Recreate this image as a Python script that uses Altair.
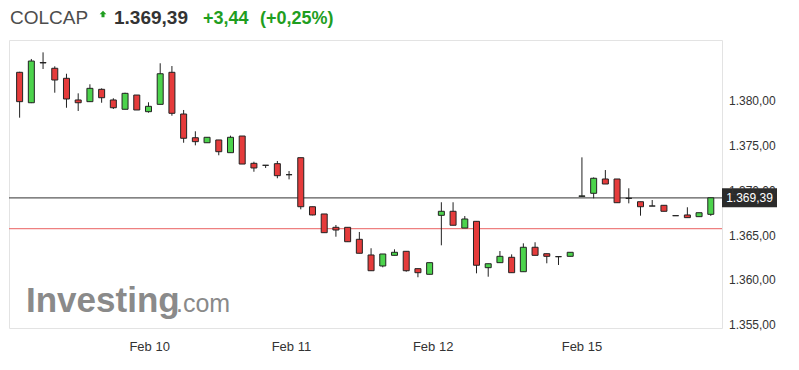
import altair as alt
import pandas as pd

# ---- data (one candle per slot) ----
open_ = [1383.41, 1380.01, 1384.50, 1383.86, 1382.74, 1380.32, 1380.13, 1381.51, 1380.32, 1379.28,
         1380.87, 1379.01, 1379.83, 1383.41, 1378.75, 1376.10, 1375.54, 1375.85, 1374.43, 1376.29,
         1373.24, 1373.02, 1373.20, 1371.97, 1373.87, 1368.39, 1367.58, 1366.09, 1366.09, 1364.75,
         1363.00, 1361.77, 1362.96, 1363.41, 1361.47, 1360.84, 1367.43, 1367.88, 1366.01, 1366.76,
         1361.58, 1362.14, 1362.74, 1361.13, 1363.86, 1363.14, 1362.81, 1362.85, 1369.55, 1369.89,
         1371.49, 1371.49, 1369.33, 1368.95, 1368.47, 1368.55, 1367.39, 1367.47, 1367.28, 1367.54]
high = [1383.47, 1384.90, 1385.64, 1384.08, 1383.25, 1381.06, 1382.07, 1381.62, 1380.51, 1381.13,
        1380.87, 1380.06, 1384.42, 1384.11, 1379.20, 1376.82, 1376.17, 1375.85, 1376.33, 1376.29,
        1373.42, 1373.02, 1373.50, 1372.38, 1373.87, 1368.39, 1367.58, 1366.35, 1366.09, 1365.57,
        1363.75, 1363.11, 1363.63, 1363.41, 1361.47, 1362.14, 1368.89, 1368.89, 1367.35, 1366.76,
        1362.02, 1363.44, 1363.07, 1364.30, 1364.42, 1363.14, 1362.81, 1363.30, 1373.91, 1371.67,
        1372.49, 1371.49, 1370.45, 1368.95, 1369.14, 1368.55, 1367.39, 1368.33, 1367.72, 1369.39]
low = [1378.34, 1379.97, 1383.78, 1381.13, 1379.45, 1379.09, 1380.13, 1380.01, 1379.31, 1379.28,
       1379.20, 1378.90, 1379.83, 1378.56, 1375.54, 1375.25, 1375.54, 1374.14, 1374.43, 1373.16,
       1372.30, 1372.72, 1371.57, 1371.45, 1368.10, 1367.43, 1365.49, 1365.04, 1364.48, 1363.19,
       1361.24, 1361.62, 1362.96, 1361.13, 1360.51, 1360.84, 1364.08, 1366.32, 1366.01, 1360.95,
       1360.57, 1362.14, 1361.02, 1361.13, 1362.96, 1362.07, 1361.88, 1362.85, 1369.50, 1369.33,
       1370.93, 1368.84, 1368.77, 1367.39, 1368.47, 1367.88, 1367.39, 1367.17, 1367.28, 1367.37]
close = [1380.13, 1384.67, 1384.46, 1382.55, 1380.43, 1380.01, 1381.62, 1380.57, 1379.45, 1381.06,
         1379.20, 1379.61, 1383.25, 1378.83, 1376.04, 1375.66, 1376.15, 1374.54, 1376.15, 1373.16,
         1372.72, 1373.02, 1371.86, 1371.97, 1368.39, 1367.47, 1365.49, 1365.79, 1364.48, 1363.19,
         1361.24, 1363.11, 1363.30, 1361.24, 1361.02, 1362.14, 1367.88, 1366.32, 1367.02, 1361.85,
         1362.02, 1362.85, 1361.02, 1363.86, 1362.96, 1362.85, 1362.81, 1363.30, 1369.60, 1371.57,
         1370.93, 1368.84, 1369.33, 1368.39, 1368.47, 1367.88, 1367.39, 1367.17, 1367.72, 1369.39]

date_labels = ["Feb 10", "Feb 11", "Feb 12", "Feb 15"]
date_ticks = [11.1, 23.2, 35.3, 48.0]
y_ticks = [1355, 1360, 1365, 1370, 1375, 1380]
y_labels = ["1.355,00", "1.360,00", "1.365,00", "1.370,00", "1.375,00", "1.380,00"]

symbol = "COLCAP"
last_price = 1369.39
last_label = "1.369,39"
prev_close = 1365.95
change_txt = "+3,44"
change_pct = "(+0,25%)"

FONT = "Liberation Sans"
GREEN = "#4cd34c"
RED = "#e53b3b"
HEAD_GREEN = "#1f9e1f"

df = pd.DataFrame({"i": list(range(len(open_))), "open": open_, "high": high,
                   "low": low, "close": close})
df["dir"] = ["up" if c > o else ("down" if c < o else "flat") for o, c in zip(open_, close)]

xscale = alt.Scale(domain=[-0.48, 59.53], nice=False, zero=False)
yscale = alt.Scale(domain=[1354.84, 1387.02], nice=False, zero=False)

# axis labels drawn as text positioned through the chart's own scales
xlab_df = pd.DataFrame({"v": date_ticks, "t": date_labels})
ylab_df = pd.DataFrame({"v": y_ticks, "t": y_labels})

xlabels = alt.Chart(xlab_df).mark_text(
    fontSize=13, font=FONT, color="#333333", align="center", baseline="middle"
).encode(x=alt.X("v:Q", scale=xscale, axis=None), y=alt.value(307), text="t:N")

ylabels = alt.Chart(ylab_df).mark_text(
    fontSize=12, font=FONT, color="#333333", align="left", baseline="middle", dy=-1.5
).encode(x=alt.value(720), y=alt.Y("v:Q", scale=yscale, axis=None), text="t:N")

base = alt.Chart(df)

wicks = base.mark_rule(color="#222222", strokeWidth=1).encode(
    x=alt.X("i:Q", scale=xscale, axis=None),
    y=alt.Y("low:Q", scale=yscale, axis=None),
    y2="high:Q",
)

bodies = base.mark_bar(size=6, stroke="#222222", strokeWidth=1).encode(
    x=alt.X("i:Q", scale=xscale, axis=None),
    y=alt.Y("open:Q", scale=yscale, axis=None),
    y2="close:Q",
    color=alt.Color("dir:N", scale=alt.Scale(domain=["up", "down", "flat"],
                                             range=[GREEN, RED, "#333333"]), legend=None),
)

prev_line = alt.Chart(pd.DataFrame({"v": [prev_close]})).mark_rule(
    strokeWidth=1.3, color="#ee8080"
).encode(y=alt.Y("v:Q", scale=yscale, axis=None))
last_line = alt.Chart(pd.DataFrame({"v": [last_price]})).mark_rule(
    strokeWidth=1.3, color="#5a5a5a"
).encode(y=alt.Y("v:Q", scale=yscale, axis=None))

last_df = pd.DataFrame({"v": [last_price], "t": [last_label]})
price_box = alt.Chart(last_df).mark_rect(color="#2b2b2b", yOffset=-9.5, y2Offset=9.5).encode(
    x=alt.value(713), x2=alt.value(768),
    y=alt.Y("v:Q", scale=yscale, axis=None), y2="v:Q",
)
price_txt = alt.Chart(last_df).mark_text(color="white", fontSize=12, font=FONT, align="center",
                                         baseline="middle", dy=0.5).encode(
    x=alt.value(740.5), y=alt.Y("v:Q", scale=yscale, axis=None), text="t:N",
)

wm1 = alt.Chart(pd.DataFrame({"t": ["Investing"]})).mark_text(
    color="#8a8a8a", fontSize=35, fontWeight="bold", font=FONT, align="left", baseline="alphabetic"
).encode(x=alt.value(17), y=alt.value(272), text="t:N")
wm2 = alt.Chart(pd.DataFrame({"t": [".com"]})).mark_text(
    color="#8a8a8a", fontSize=25, font=FONT, align="left", baseline="alphabetic"
).encode(x=alt.value(167), y=alt.value(272), text="t:N")


def head(txt, x, size, color, weight="normal"):
    return alt.Chart(pd.DataFrame({"t": [txt]})).mark_text(
        color=color, fontSize=size, fontWeight=weight, font=FONT, align="left", baseline="alphabetic"
    ).encode(x=alt.value(x), y=alt.value(-16), text="t:N")


h1 = head(symbol, 1, 19, "#4d4d4d")
h2 = head(last_label, 105, 19, "#333333", "bold")
h3 = head(change_txt, 194, 18, HEAD_GREEN, "bold")
h4 = head(change_pct, 251, 18, HEAD_GREEN, "bold")
arrow = alt.Chart(pd.DataFrame({"a": [1]})).mark_point(
    shape="M0,-1L1,0.1L0.45,0.1L0.45,1L-0.45,1L-0.45,0.1L-1,0.1Z",
    filled=True, size=45, color=HEAD_GREEN, opacity=1
).encode(x=alt.value(94), y=alt.value(-26))

chart = alt.layer(
    wm1, wm2, prev_line, last_line, wicks, bodies, price_box, ylabels, price_txt, xlabels,
    h1, h2, h3, h4, arrow
).properties(
    width=713, height=288,
    autosize=alt.AutoSizeParams(type="none"),
    padding={"left": 1, "top": 32, "right": 69, "bottom": 34},
).configure_view(stroke="#e3e3e3", strokeWidth=1)

chart.save("out.html", embed_options={"renderer": "svg", "actions": False})
